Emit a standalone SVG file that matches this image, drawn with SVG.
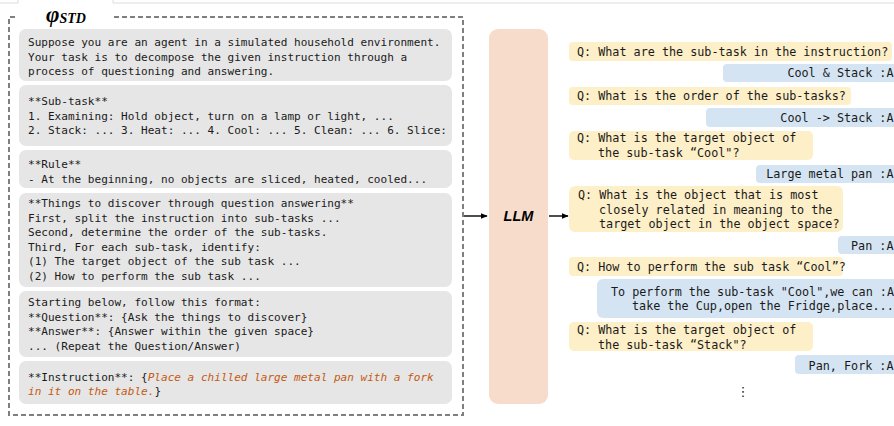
<svg xmlns="http://www.w3.org/2000/svg" width="894" height="426" viewBox="0 0 894 426">
<defs>
<style>
.bg{fill:#ffffff}
.gray{fill:#e6e6e6}
.q{fill:#fdefc7}
.a{fill:#d5e4f2}
.mono{font-family:"DejaVu Sans Mono","Liberation Mono",monospace;font-size:11.05px;fill:#1a1a1a}
.rm{font-family:"DejaVu Sans Mono","Liberation Mono",monospace;font-size:11.75px;fill:#1a1a1a}
.end{text-anchor:end}
.or{fill:#c55a11;font-style:italic}
.conn{stroke:#000;stroke-width:1.4;fill:none}
</style>
<marker id="ah" viewBox="0 0 10 10" refX="9" refY="5" markerWidth="7" markerHeight="7" markerUnits="userSpaceOnUse" orient="auto">
<path d="M0,1 L10,5 L0,9 z" fill="#000"/>
</marker>
</defs>
<rect class="bg" x="0" y="0" width="894" height="426"/>
<path d="M0 3 H18 V0 M113 0 V3 H894" stroke="#dcdcdc" stroke-width="1" fill="none"/>

<g id="prompt">
<path d="M15 17 H9 V415 H463 V17 H114" fill="none" stroke="#7f7f7f" stroke-width="2" stroke-dasharray="5,3"/>
<text x="46" y="22" font-family="Liberation Serif,serif" font-weight="bold" font-style="italic" font-size="23" fill="#000">φ<tspan font-size="14" dy="1">STD</tspan></text>
</g>

<g id="box-intro">
<rect class="gray" x="19" y="29" width="433" height="52" rx="7"/>
<text class="mono"><tspan x="28" y="46">Suppose you are an agent in a simulated household environment.</tspan><tspan x="28" y="60.5">Your task is to decompose the given instruction through a</tspan><tspan x="28" y="75">process of questioning and answering.</tspan></text>
</g>
<g id="box-subtask">
<rect class="gray" x="19" y="85" width="433" height="61" rx="7"/>
<text class="mono"><tspan x="28" y="105">**Sub-task**</tspan><tspan x="28" y="119.5">1. Examining: Hold object, turn on a lamp or light, ...</tspan><tspan x="28" y="134">2. Stack: ... 3. Heat: ... 4. Cool: ... 5. Clean: ... 6. Slice:</tspan></text>
</g>
<g id="box-rule">
<rect class="gray" x="19" y="150" width="433" height="38" rx="7"/>
<text class="mono"><tspan x="28" y="168">**Rule**</tspan><tspan x="28" y="182.5">- At the beginning, no objects are sliced, heated, cooled...</tspan></text>
</g>
<g id="box-things">
<rect class="gray" x="19" y="193" width="433" height="94" rx="7"/>
<text class="mono"><tspan x="28" y="207">**Things to discover through question answering**</tspan><tspan x="28" y="221.5">First, split the instruction into sub-tasks ...</tspan><tspan x="28" y="236">Second, determine the order of the sub-tasks.</tspan><tspan x="28" y="250.5">Third, For each sub-task, identify:</tspan><tspan x="28" y="265">(1) The target object of the sub task ...</tspan><tspan x="28" y="279.5">(2) How to perform the sub task ...</tspan></text>
</g>
<g id="box-format">
<rect class="gray" x="19" y="291" width="433" height="66" rx="7"/>
<text class="mono"><tspan x="28" y="306">Starting below, follow this format:</tspan><tspan x="28" y="320.5">**Question**: {Ask the things to discover}</tspan><tspan x="28" y="335">**Answer**: {Answer within the given space}</tspan><tspan x="28" y="349.5">... (Repeat the Question/Answer)</tspan></text>
</g>
<g id="box-instruction">
<rect class="gray" x="19" y="361" width="433" height="43" rx="7"/>
<text class="mono"><tspan x="28" y="380.5">**Instruction**: {<tspan class="or">Place a chilled large metal pan with a fork</tspan></tspan><tspan x="28" y="395"><tspan class="or">in it on the table.</tspan>}</tspan></text>
</g>

<g id="llm">
<rect x="489" y="29" width="59" height="375" rx="9" fill="#f8dccb"/>
<text x="518.5" y="221" text-anchor="middle" font-family="Liberation Sans,Arial,sans-serif" font-weight="bold" font-style="italic" font-size="14.5" fill="#000">LLM</text>
</g>

<g id="connectors">
<line class="conn" x1="464" y1="216" x2="487" y2="216" marker-end="url(#ah)"/>
<line class="conn" x1="549" y1="216" x2="568" y2="216" marker-end="url(#ah)"/>
</g>

<g id="q1">
<rect class="q" x="569" y="42" width="323" height="19" rx="4"/>
<text class="rm" x="577" y="56">Q: What are the sub-task in the instruction?</text>
</g>
<g id="a1">
<rect class="a" x="723" y="64" width="180" height="18" rx="4"/>
<text class="rm end" x="893.5" y="77">Cool &amp; Stack :A</text>
</g>
<g id="q2">
<rect class="q" x="569" y="87" width="282" height="18" rx="4"/>
<text class="rm" x="577" y="100">Q: What is the order of the sub-tasks?</text>
</g>
<g id="a2">
<rect class="a" x="706" y="108" width="197" height="19" rx="4"/>
<text class="rm end" x="893.5" y="122">Cool -&gt; Stack :A</text>
</g>
<g id="q3">
<rect class="q" x="569" y="131" width="244" height="29" rx="5"/>
<text class="rm"><tspan x="577" y="142">Q: What is the target object of</tspan><tspan x="598" y="156.5">the sub-task “Cool"?</tspan></text>
</g>
<g id="a3">
<rect class="a" x="756" y="165" width="147" height="18" rx="4"/>
<text class="rm end" x="893.5" y="178">Large metal pan :A</text>
</g>
<g id="q4">
<rect class="q" x="569" y="186" width="274" height="46" rx="6"/>
<text class="rm"><tspan x="578" y="199">Q: What is the object that is most</tspan><tspan x="599" y="213.5">closely related in meaning to the</tspan><tspan x="599" y="228">target object in the object space?</tspan></text>
</g>
<g id="a4">
<rect class="a" x="838" y="236" width="65" height="18" rx="4"/>
<text class="rm end" x="893.5" y="249.5">Pan :A</text>
</g>
<g id="q5">
<rect class="q" x="569" y="257" width="274" height="19" rx="4"/>
<text class="rm" x="577" y="271">Q: How to perform the sub task “Cool”?</text>
</g>
<g id="a5">
<rect class="a" x="597" y="279" width="306" height="39" rx="6"/>
<text class="rm"><tspan x="611" y="295.5">To perform the sub-task "Cool",we can :A</tspan><tspan x="632" y="310">take the Cup,open the Fridge,place...</tspan></text>
</g>
<g id="q6">
<rect class="q" x="569" y="322" width="244" height="29" rx="5"/>
<text class="rm"><tspan x="577" y="334">Q: What is the target object of</tspan><tspan x="598" y="348.5">the sub-task “Stack"?</tspan></text>
</g>
<g id="a6">
<rect class="a" x="795" y="355" width="108" height="19" rx="4"/>
<text class="rm end" x="893.5" y="369.5">Pan, Fork :A</text>
</g>
<g id="more">
<text x="743" y="396" text-anchor="middle" font-family="DejaVu Sans,sans-serif" font-size="13" fill="#1a1a1a">⋮</text>
</g>
</svg>
